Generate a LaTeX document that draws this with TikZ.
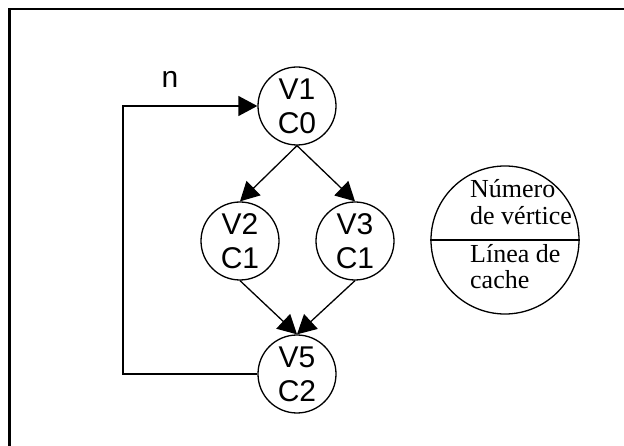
\documentclass[tikz,border=0pt]{standalone}
\usepackage{fontspec}
\setmainfont{Liberation Serif}
\setsansfont{Liberation Sans}
\usetikzlibrary{arrows.meta}
\begin{document}
\begin{tikzpicture}[x=1pt,y=-1pt,
  vert/.style={circle,draw,line width=1.3pt,minimum size=78pt,inner sep=0pt,align=center,
    font=\sffamily\fontsize{30}{34}\selectfont},
  edge/.style={line width=1.3pt,-{Triangle[length=19pt,width=20pt]}},
  plain/.style={line width=1.3pt},
  legtxt/.style={anchor=base west,inner sep=0pt,font=\rmfamily\fontsize{26}{27}\selectfont}]
\useasboundingbox (0,0) rectangle (624,446);
\draw[line width=2.5pt] (9.5,450) -- (9.5,9) -- (630,9);
\node[vert] (v1) at (297,106) {V1\\C0};
\node[vert] (v2) at (240,241) {V2\\C1};
\node[vert] (v3) at (355,241) {V3\\C1};
\node[vert] (v5) at (297,374) {V5\\C2};
\coordinate (c1) at (123,106);
\coordinate (c2) at (123,374);
\draw[edge] (v1.south) -- (v2.north);
\draw[edge] (v1.south) -- (v3.north);
\draw[edge] (v2.south) -- (v5.north);
\draw[edge] (v3.south) -- (v5.north);
\draw[edge] (v5.west) -- (c2) -- (c1) -- (v1.west);
\node[font=\sffamily\fontsize{30}{34}\selectfont,inner sep=0pt] (n) at (170,79) {n};
\node[circle,draw,line width=1.3pt,minimum size=148pt,inner sep=0pt] (leg) at (505,240) {};
\draw[plain] (leg.west) -- (leg.east);
\node[legtxt] (t1) at (470,198) {Número};
\node[legtxt] (t2) at (470,225) {de vértice};
\node[legtxt] (t3) at (470,263) {Línea de};
\node[legtxt] (t4) at (470,289) {cache};
\end{tikzpicture}
\end{document}
